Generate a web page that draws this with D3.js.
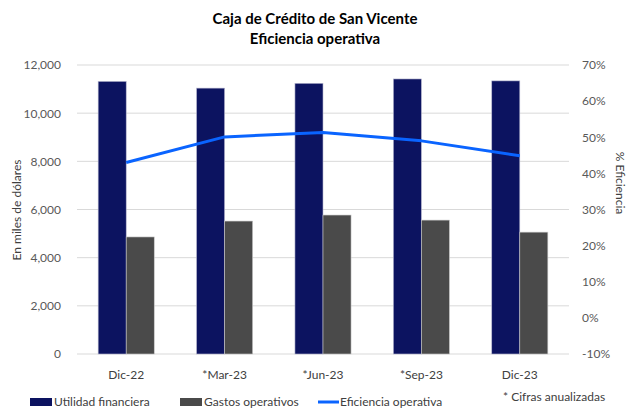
<!DOCTYPE html>
<html><head><meta charset="utf-8">
<script src="https://cdn.jsdelivr.net/npm/d3@7"></script>
<style>body{margin:0;background:#fff}text{font-family:Lato,"Open Sans",sans-serif}</style>
</head><body><svg id="c" width="629" height="409"></svg>
<script>
const categories = ["Dic-22","*Mar-23","*Jun-23","*Sep-23","Dic-23"];
const utilidad = [11320, 11040, 11240, 11420, 11340];
const gastos = [4860, 5520, 5770, 5560, 5060];
const eficiencia = [43.0, 50.1, 51.3, 49.0, 44.9];
const leftTicks = [0,2000,4000,6000,8000,10000,12000];
const rightTicks = [-10,0,10,20,30,40,50,60,70];

const svg = d3.select("#c");
const L=77,R=569,T=65,B=354;
const x0 = d3.scaleBand().domain(categories).range([L,R]).paddingInner(0.43).paddingOuter(0.215);
const x1 = d3.scaleBand().domain(["u","g"]).range([0,x0.bandwidth()]);
const y = d3.scaleLinear().domain([0,12000]).range([B,T]);
const y2 = d3.scaleLinear().domain([-10,70]).range([B,T]);

svg.append("g").selectAll("line").data(leftTicks).join("line")
  .attr("x1",L).attr("x2",R).attr("y1",d=>y(d)).attr("y2",d=>y(d))
  .attr("stroke","#d9d9d9").attr("stroke-width",1);

const ax = svg.append("g").attr("transform",`translate(${L-13},0)`)
  .call(d3.axisLeft(y).tickValues(leftTicks).tickFormat(d3.format(",")).tickSize(0));
ax.select(".domain").remove();
ax.selectAll("text").attr("fill","#595959").style("font-size","12px");

const ar = svg.append("g").attr("transform",`translate(${R+13},0)`)
  .call(d3.axisRight(y2).tickValues(rightTicks).tickFormat(d=>d+"%").tickSize(0));
ar.select(".domain").remove();
ar.selectAll("text").attr("fill","#595959").style("font-size","12px").attr("x",0);

const axb = svg.append("g").attr("transform",`translate(0,${B+13})`)
  .call(d3.axisBottom(x0).tickSize(0));
axb.select(".domain").remove();
axb.selectAll("text").attr("fill","#404040").style("font-size","12px").attr("dy","0.71em");

const g = svg.append("g");
g.selectAll(".u").data(categories).join("rect")
  .attr("x",(d)=>x0(d)+x1("u")).attr("width",x1.bandwidth())
  .attr("y",(d,i)=>y(utilidad[i])).attr("height",(d,i)=>B-y(utilidad[i]))
  .attr("fill","#0c1360").attr("stroke","#b8b8d0").attr("stroke-width",0.6);
g.selectAll(".g").data(categories).join("rect")
  .attr("x",(d)=>x0(d)+x1("g")).attr("width",x1.bandwidth())
  .attr("y",(d,i)=>y(gastos[i])).attr("height",(d,i)=>B-y(gastos[i]))
  .attr("fill","#4a4a4a").attr("stroke","#c8c8c8").attr("stroke-width",0.6);

const line = d3.line().x((d,i)=>x0(categories[i])+x0.bandwidth()/2).y(d=>y2(d));
svg.append("path").datum(eficiencia).attr("d",line).attr("fill","none")
  .attr("stroke","#0a64ff").attr("stroke-width",3).attr("stroke-linejoin","round");

svg.append("text").attr("x",315).attr("y",24).attr("text-anchor","middle")
  .style("font-size","15px").style("font-weight","bold").attr("fill","#000").text("Caja de Crédito de San Vicente");
svg.append("text").attr("x",315).attr("y",44).attr("text-anchor","middle")
  .style("font-size","15px").style("font-weight","bold").attr("fill","#000").text("Eficiencia operativa");

svg.append("text").attr("transform","translate(21,210) rotate(-90)").attr("text-anchor","middle")
  .style("font-size","12px").attr("fill","#404040").text("En miles de dólares");
svg.append("text").attr("transform","translate(616,183) rotate(90)").attr("text-anchor","middle")
  .style("font-size","12px").attr("fill","#404040").text("% Eficiencia");

const leg = svg.append("g");
leg.append("rect").attr("x",30).attr("y",398).attr("width",22).attr("height",8).attr("fill","#0c1360");
leg.append("text").attr("x",54).attr("y",406).style("font-size","12px").attr("fill","#404040").text("Utilidad financiera");
leg.append("rect").attr("x",180).attr("y",398).attr("width",22).attr("height",8).attr("fill","#4a4a4a");
leg.append("text").attr("x",204).attr("y",406).style("font-size","12px").attr("fill","#404040").text("Gastos operativos");
leg.append("line").attr("x1",318).attr("x2",339).attr("y1",402).attr("y2",402).attr("stroke","#0a64ff").attr("stroke-width",3);
leg.append("text").attr("x",340).attr("y",406).style("font-size","12px").attr("fill","#404040").text("Eficiencia operativa");
leg.append("text").attr("x",503).attr("y",401).style("font-size","12px").attr("fill","#404040").text("* Cifras anualizadas");
</script></body></html>
